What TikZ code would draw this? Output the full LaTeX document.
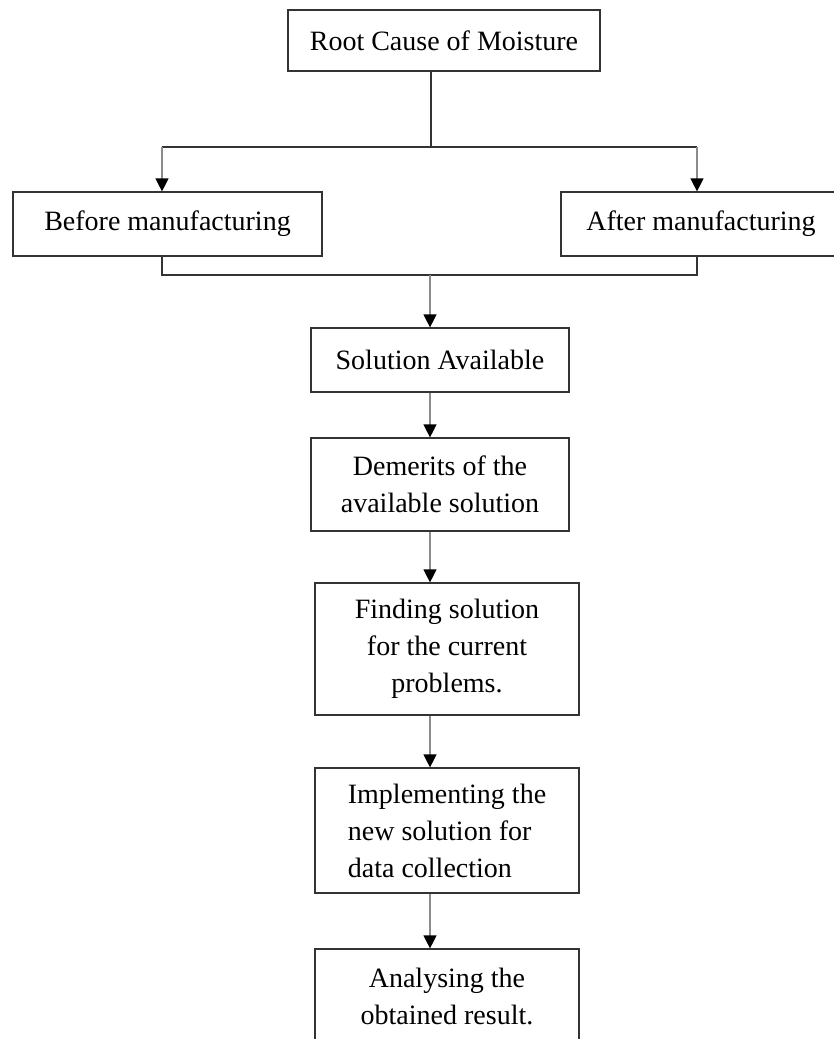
\documentclass[tikz,border=0pt]{standalone}
\usepackage{fontspec}
\setmainfont{Liberation Serif}
\usetikzlibrary{arrows.meta}

\begin{document}
\begin{tikzpicture}[
    x=0.5pt, y=-0.5pt,
    box/.style={rectangle, draw=black!80, line width=0.6pt, align=center, inner sep=0pt, font=\fontsize{14}{18.5}\selectfont},
    link/.style={draw=black!80, line width=0.6pt},
    arrow/.style={draw=black!45, line width=0.6pt, -{Triangle[width=6.5pt, length=6.5pt, color=black]}}
]
\useasboundingbox (0,0) rectangle (834,1039);

% Root
\node[box, minimum width=156pt, minimum height=30.5pt] (root) at (444,40.5) {Root Cause of Moisture};

% Two causes
\node[box, minimum width=154.5pt, minimum height=32pt] (before) at (167.5,224) {Before manufacturing};
\node[box, minimum width=140pt, minimum height=32pt] (after) at (701,224) {After manufacturing};

% Main chain
\node[box, minimum width=129pt, minimum height=32pt] (avail) at (440,360) {Solution Available};
\node[box, minimum width=129pt, minimum height=46.5pt] (demerits) at (440,484.5) {Demerits of the\\available solution};
\node[box, minimum width=132pt, minimum height=66pt] (finding) at (447,649) {Finding solution\\for the current\\problems.};
\node[box, minimum width=132pt, minimum height=62.5pt, align=left] (implement) at (447,830.5) {Implementing the\\new solution for\\data collection};
\node[box, minimum width=132pt, minimum height=47pt] (analyse) at (447,996) {Analysing the\\obtained result.};

% Split from root to the two causes
\coordinate (split) at (431,147);
\coordinate (splitL) at (162,147);
\coordinate (splitR) at (697,147);
\draw[link] (split |- root.south) -- (split);
\draw[link] (splitL) -- (splitR);
\draw[arrow] (splitL) -- (splitL |- before.north);
\draw[arrow] (splitR) -- (splitR |- after.north);

% Join the two causes
\coordinate (join) at (430,275);
\coordinate (joinL) at (162,275);
\coordinate (joinR) at (697,275);
\draw[link] (joinL |- before.south) -- (joinL) -- (joinR) -- (joinR |- after.south);
\draw[arrow] (join) -- (join |- avail.north);

% Chain arrows
\draw[arrow] (join |- avail.south) -- (join |- demerits.north);
\draw[arrow] (join |- demerits.south) -- (join |- finding.north);
\draw[arrow] (join |- finding.south) -- (join |- implement.north);
\draw[arrow] (join |- implement.south) -- (join |- analyse.north);

\end{tikzpicture}
\end{document}
